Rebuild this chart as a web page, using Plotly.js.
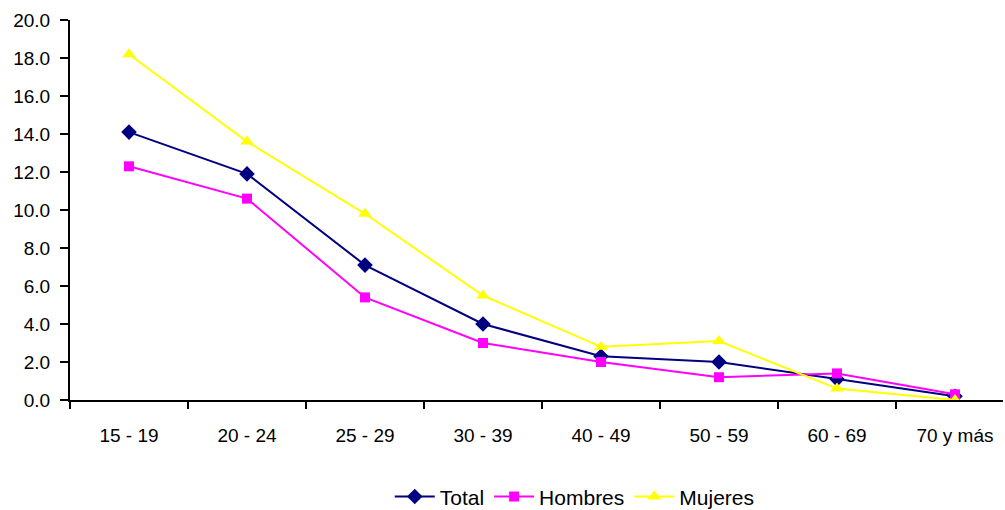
<!DOCTYPE html>
<html>
<head>
<meta charset="utf-8">
<script src="https://cdn.plot.ly/plotly-3.0.1.min.js"></script>
<style>html,body{margin:0;padding:0;background:#fff;}</style>
</head>
<body>
<div id="chart" style="width:1005px;height:510px;"></div>
<script>
const categories = ["15 - 19", "20 - 24", "25 - 29", "30 - 39", "40 - 49", "50 - 59", "60 - 69", "70 y más"];
const total = [14.1, 11.9, 7.1, 4.0, 2.3, 2.0, 1.1, 0.2];
const hombres = [12.3, 10.6, 5.4, 3.0, 2.0, 1.2, 1.4, 0.3];
const mujeres = [18.2, 13.6, 9.8, 5.5, 2.8, 3.1, 0.6, 0.0];
const yTicks = [0, 2, 4, 6, 8, 10, 12, 14, 16, 18, 20];

const font = {family: "Liberation Sans, Arial, sans-serif", size: 19, color: "#000"};
const legendFont = {family: "Liberation Sans, Arial, sans-serif", size: 21, color: "#000"};

const traces = [
  {name: "Total", x: categories, y: total, type: "scatter", mode: "lines+markers",
   line: {color: "#000080", width: 2}, marker: {symbol: "diamond", size: 12, color: "#000080"}},
  {name: "Hombres", x: categories, y: hombres, type: "scatter", mode: "lines+markers",
   line: {color: "#FF00FF", width: 2}, marker: {symbol: "square", size: 10, color: "#FF00FF"}},
  {name: "Mujeres", x: categories, y: mujeres, type: "scatter", mode: "lines+markers",
   line: {color: "#FFFF00", width: 2}, marker: {symbol: "triangle-up", size: 12, color: "#FFFF00"}}
];

const layout = {
  width: 1005, height: 510,
  margin: {l: 70, r: 2, t: 20, b: 110, autoexpand: false},
  paper_bgcolor: "#fff", plot_bgcolor: "#fff",
  font: font,
  showlegend: true,
  legend: {orientation: "h", x: 0.541, xanchor: "center", y: -0.255, yanchor: "middle",
           font: legendFont, itemwidth: 40, tracegroupgap: 0},
  xaxis: {
    type: "category", range: [-0.5, 7.407],
    showline: true, linecolor: "#000", linewidth: 2,
    ticks: "outside", tickson: "boundaries", ticklen: 7, tickcolor: "#000", tickwidth: 2,
    ticklabelstandoff: 17,
    showgrid: false, zeroline: false, tickfont: font
  },
  yaxis: {
    range: [0, 20], tickvals: yTicks, tickformat: ".1f",
    showline: true, linecolor: "#000", linewidth: 2,
    ticks: "outside", ticklen: 8, tickcolor: "#000", tickwidth: 2,
    ticklabelstandoff: 6,
    showgrid: false, zeroline: false, tickfont: font
  }
};

Plotly.newPlot("chart", traces, layout, {displayModeBar: false, staticPlot: true});
</script>
</body>
</html>
